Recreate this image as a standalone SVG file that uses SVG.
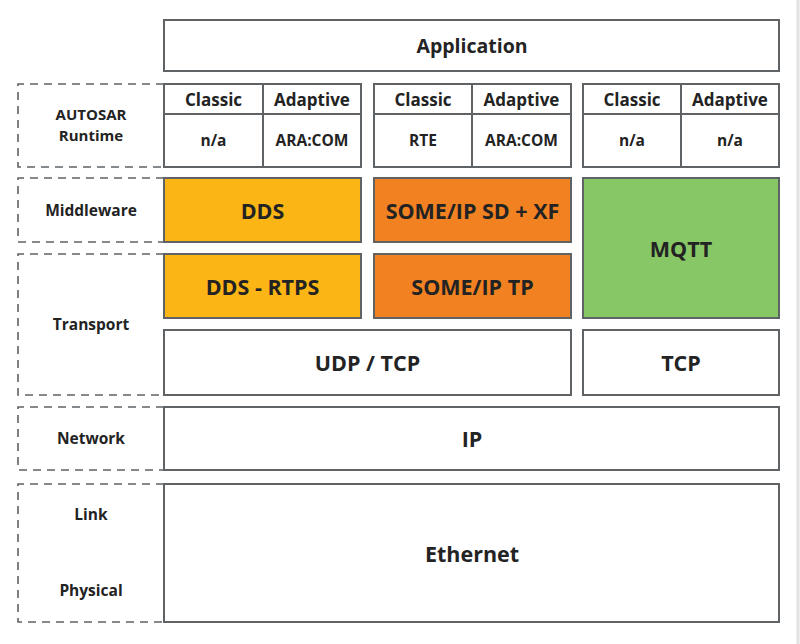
<svg xmlns="http://www.w3.org/2000/svg" width="800" height="644" viewBox="0 0 800 644">
<style>
.box{fill:#fff;stroke:#5f6366;stroke-width:2}
.dash{fill:none;stroke:#5f6366;stroke-width:1.6;stroke-dasharray:8 6}
.yel{fill:#fbb515;stroke:#5f6366;stroke-width:2}
.org{fill:#f28122;stroke:#5f6366;stroke-width:2}
.grn{fill:#88c765;stroke:#5f6366;stroke-width:2}
.ln{stroke:#5f6366;stroke-width:2}
text{font-family:"Open Sans","Liberation Sans",sans-serif;font-weight:700;fill:#232323;text-anchor:middle;dominant-baseline:central}
.big{font-size:21.5px}
.med{font-size:19.5px}
.hd{font-size:17px}
.cell{font-size:15.5px}
.lab{font-size:15.5px}
.lab2{font-size:15px}
</style>
<rect width="800" height="644" fill="#fff"/>
<line x1="798" y1="0" x2="798" y2="644" stroke="#e2e2e2" stroke-width="3"/>

<g id="layer-labels">
<g id="lbl-autosar"><path class="dash" d="M164 84 H18 V167 H164"/><text class="lab2" x="91" y="114">AUTOSAR</text><text class="lab2" x="91" y="135">Runtime</text></g>
<g id="lbl-middleware"><path class="dash" d="M164 178 H18 V242 H164"/><text class="lab" x="91" y="210">Middleware</text></g>
<g id="lbl-transport"><path class="dash" d="M164 254 H18 V395 H164"/><text class="lab" x="91" y="324">Transport</text></g>
<g id="lbl-network"><path class="dash" d="M164 407 H18 V470 H164"/><text class="lab" x="91" y="438">Network</text></g>
<g id="lbl-linkphys"><path class="dash" d="M164 484 H18 V622 H164"/><text class="lab" x="91" y="514">Link</text><text class="lab" x="91" y="590">Physical</text></g>
</g>

<g id="application"><rect class="box" x="164" y="20" width="615" height="51"/><text class="med" x="472" y="45">Application</text></g>

<g id="runtime-1">
<rect class="box" x="164" y="84" width="197" height="83"/>
<line class="ln" x1="164" y1="114" x2="361" y2="114"/><line class="ln" x1="263" y1="84" x2="263" y2="167"/>
<text class="hd" x="213.5" y="99">Classic</text><text class="hd" x="312" y="99">Adaptive</text>
<text class="cell" x="213.5" y="140">n/a</text><text class="cell" x="312" y="140">ARA:COM</text>
</g>
<g id="runtime-2">
<rect class="box" x="374" y="84" width="197" height="83"/>
<line class="ln" x1="374" y1="114" x2="571" y2="114"/><line class="ln" x1="472" y1="84" x2="472" y2="167"/>
<text class="hd" x="423" y="99">Classic</text><text class="hd" x="521.5" y="99">Adaptive</text>
<text class="cell" x="423" y="140">RTE</text><text class="cell" x="521.5" y="140">ARA:COM</text>
</g>
<g id="runtime-3">
<rect class="box" x="583" y="84" width="196" height="83"/>
<line class="ln" x1="583" y1="114" x2="779" y2="114"/><line class="ln" x1="681" y1="84" x2="681" y2="167"/>
<text class="hd" x="632" y="99">Classic</text><text class="hd" x="730" y="99">Adaptive</text>
<text class="cell" x="632" y="140">n/a</text><text class="cell" x="730" y="140">n/a</text>
</g>

<g id="dds"><rect class="yel" x="164" y="178" width="197" height="64"/><text class="big" x="262.5" y="210">DDS</text></g>
<g id="someip-sd"><rect class="org" x="374" y="178" width="197" height="64"/><text class="big" x="472.5" y="210">SOME/IP SD + XF</text></g>
<g id="mqtt"><rect class="grn" x="583" y="178" width="196" height="140"/><text class="big" x="681" y="248">MQTT</text></g>
<g id="dds-rtps"><rect class="yel" x="164" y="254" width="197" height="64"/><text class="big" x="262.5" y="286">DDS - RTPS</text></g>
<g id="someip-tp"><rect class="org" x="374" y="254" width="197" height="64"/><text class="big" x="472.5" y="286">SOME/IP TP</text></g>
<g id="udp-tcp"><rect class="box" x="164" y="330" width="407" height="65"/><text class="big" x="367.5" y="362">UDP / TCP</text></g>
<g id="tcp"><rect class="box" x="583" y="330" width="196" height="65"/><text class="big" x="681" y="362">TCP</text></g>
<g id="ip"><rect class="box" x="164" y="407" width="615" height="63"/><text class="big" x="472" y="438">IP</text></g>
<g id="ethernet"><rect class="box" x="164" y="484" width="615" height="138"/><text class="big" x="472" y="553">Ethernet</text></g>
<g id="connectors"/>
</svg>
